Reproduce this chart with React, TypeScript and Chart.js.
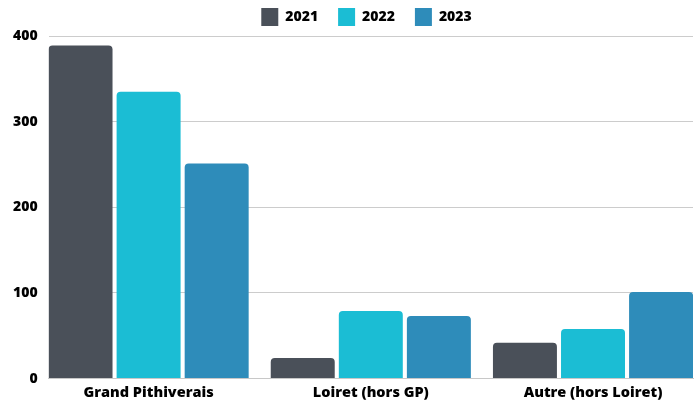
import React, { useEffect, useRef } from 'react';
import { Chart, registerables } from 'chart.js';

Chart.register(...registerables);

const categories = ['Grand Pithiverais', 'Loiret (hors GP)', 'Autre (hors Loiret)'];
const years = ['2021', '2022', '2023'];
const values2021 = [389, 24, 42];
const values2022 = [335, 79, 58];
const values2023 = [251, 73, 101];
const colors = ['#4a5059', '#1bbdd4', '#2e8cba'];
const yTicks = [0, 100, 200, 300, 400];

const legendShift = {
  id: 'legendShift',
  afterUpdate(chart: any) {
    const lg = chart.legend;
    if (lg) {
      lg.left += 19;
      lg.right += 19;
    }
  },
};

export default function App() {
  const ref = useRef<HTMLCanvasElement>(null);
  useEffect(() => {
    const series = [values2021, values2022, values2023];
    const font = { family: '"Open Sans", sans-serif', weight: '800' as any, size: 14 };
    const xFont = { family: '"Open Sans", sans-serif', weight: '800' as any, size: 14.5 };
    const chart = new Chart(ref.current!, {
      type: 'bar',
      data: {
        datasets: series.map((vals, i) => ({
          label: years[i],
          data: vals.map((v, j) => ({ x: j, y: v })),
          backgroundColor: colors[i],
          borderRadius: 4,
          borderSkipped: 'start',
          barPercentage: 0.94,
          categoryPercentage: 0.919,
        })),
      },
      plugins: [legendShift],
      options: {
        animation: false,
        responsive: false,
        layout: { padding: { left: 2, right: 6, top: -12, bottom: -6 } },
        plugins: {
          legend: {
            position: 'top',
            labels: {
              boxWidth: 17,
              boxHeight: 18,
              padding: 20,
              font,
              color: '#000',
            },
          },
          tooltip: { enabled: false },
        },
        scales: {
          x: {
            type: 'linear',
            min: -0.45,
            max: 2.45,
            offset: false,
            grid: { display: false, drawTicks: false },
            border: { display: true, color: '#c8c8c8' },
            ticks: {
              stepSize: 1,
              includeBounds: false,
              autoSkip: false,
              maxRotation: 0,
              callback: (v: any) => categories[v as number] ?? '',
              font: xFont,
              color: '#000',
              padding: 6,
            },
          },
          y: {
            min: yTicks[0],
            max: yTicks[yTicks.length - 1],
            grid: { color: '#cccccc', drawTicks: false },
            border: { display: false },
            ticks: {
              stepSize: 100,
              font,
              color: '#000',
              padding: 11,
            },
          },
        },
      },
    } as any);
    return () => chart.destroy();
  }, []);
  return (
    <div style={{ position: 'fixed', left: 0, top: 0, width: 699, height: 402 }}>
      <canvas ref={ref} width={699} height={402} style={{ display: 'block', width: 699, height: 402 }} />
    </div>
  );
}
